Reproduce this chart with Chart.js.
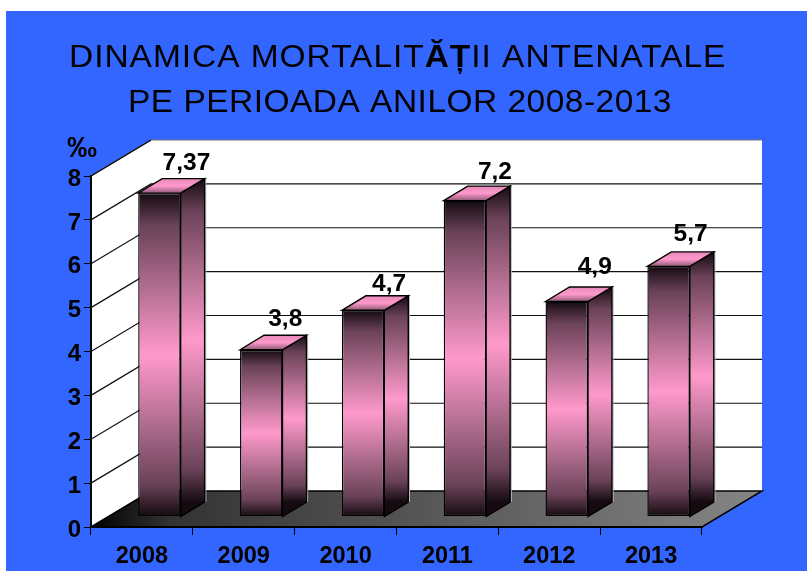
<!DOCTYPE html>
<html><head><meta charset="utf-8">
<style>html,body{margin:0;padding:0;background:#fff;overflow:hidden}#c{position:absolute;left:0;top:0}</style>
<script src="https://cdn.jsdelivr.net/npm/chart.js@4"></script>
</head><body><canvas id="c" width="807" height="571"></canvas>
<script>
const categories = ['2008','2009','2010','2011','2012','2013'];
const values = [7.37,3.8,4.7,7.2,4.9,5.7];
const valueLabels = ['7,37','3,8','4,7','7,2','4,9','5,7'];
const titleLine1 = [['DINAMICA MORTALIT',false],['ĂȚ',true],['II ANTENATALE',false]];
const titleLine2 = 'PE PERIOADA ANILOR 2008-2013';
const yUnit = '‰';
const FONT = '"Liberation Sans", Arial, sans-serif';
const WALL = {dx:60, dy:-36};
const BAR = {fx:17.5, fy:-10.5, dx:24, dy:-14.5};
const LABEL_NUDGE = [[1,-1.5],[-2,-2],[0,2],[4,0],[2,-6.5],[-4,-4]];

function poly(ctx, pts){ctx.beginPath();pts.forEach((p,i)=>i?ctx.lineTo(p[0],p[1]):ctx.moveTo(p[0],p[1]));ctx.closePath();}
function barGrad(ctx,top,bottom){
  const g=ctx.createLinearGradient(0,top,0,bottom);
  [[0,'#140a10'],[0.1,'#6a4258'],[0.3,'#b56f92'],[0.5,'#ff99cc'],[0.7,'#b56f92'],[0.9,'#6a4258'],[1,'#140a10']]
    .forEach(s=>g.addColorStop(s[0],s[1]));
  return g;
}
const scene = {
  id:'scene',
  beforeDraw(chart){
    const ctx=chart.ctx,{x,y}=chart.scales;
    const L=x.left,R=x.right,T=y.getPixelForValue(8),B=y.getPixelForValue(0);
    const d=WALL;
    ctx.save();
    ctx.fillStyle='#3366ff';ctx.fillRect(6,11,801,560);
    ctx.fillStyle='#000';ctx.textBaseline='alphabetic';ctx.textAlign='left';
    const sx=1.08;
    ctx.save();ctx.translate(69,67);ctx.scale(sx,1);
    ctx.letterSpacing='0.9px';
    let tx=0;
    titleLine1.forEach(([s,b])=>{ctx.font=(b?'bold ':'')+'31px '+FONT;ctx.fillText(s,tx,0);tx+=ctx.measureText(s).width;});
    ctx.restore();
    ctx.save();ctx.translate(128,112);ctx.scale(sx,1);
    ctx.letterSpacing='0.45px';
    ctx.font='31px '+FONT;ctx.fillText(titleLine2,0,0);
    ctx.restore();
    ctx.font='bold 30px '+FONT;ctx.fillText(yUnit,67,157);
    ctx.fillStyle='#fff';
    ctx.fillRect(L+d.dx,T+d.dy,R-L,B-T);
    poly(ctx,[[L,T],[L+d.dx,T+d.dy],[L+d.dx,B+d.dy],[L,B]]);ctx.fill();
    const g=ctx.createLinearGradient(L,0,R+d.dx,0);
    g.addColorStop(0,'#000');g.addColorStop(0.12,'#333');g.addColorStop(0.3,'#444');g.addColorStop(1,'#858585');
    ctx.fillStyle=g;poly(ctx,[[L,B],[L+d.dx,B+d.dy],[R+d.dx,B+d.dy],[R,B]]);ctx.fill();
    ctx.strokeStyle='#000';ctx.lineWidth=1.5;ctx.stroke();
    ctx.lineWidth=1.2;
    y.ticks.forEach(t=>{
      const py=y.getPixelForValue(t.value);
      if(t.value===0)return;
      ctx.strokeStyle=t.value===8?'#777':'#111';
      ctx.beginPath();ctx.moveTo(L,py);ctx.lineTo(L+d.dx,py+d.dy);
      ctx.lineTo(R+d.dx,py+d.dy);ctx.stroke();
    });
    ctx.strokeStyle='#000';ctx.beginPath();ctx.moveTo(L,T);ctx.lineTo(L+d.dx,T+d.dy);ctx.stroke();
    ctx.restore();
  },
  beforeDatasetDraw(chart){chart.ctx.save();chart.ctx.translate(BAR.fx,BAR.fy);},
  afterDatasetDraw(chart,args){
    const ctx=chart.ctx,bd=BAR;
    const y0=chart.scales.y.getPixelForValue(0);
    chart.getDatasetMeta(args.index).data.forEach((el)=>{
      const l=el.x-el.width/2,r=el.x+el.width/2,t=el.y,b=y0;
      ctx.strokeStyle='#bbb';ctx.lineWidth=1;
      ctx.beginPath();ctx.moveTo(r+bd.dx+1.2,t+bd.dy);ctx.lineTo(r+bd.dx+1.2,b+bd.dy);ctx.stroke();
      ctx.strokeStyle='#000';ctx.lineWidth=1.4;
      ctx.fillStyle=barGrad(ctx,t+bd.dy,b+bd.dy);
      poly(ctx,[[r,t],[r+bd.dx,t+bd.dy],[r+bd.dx,b+bd.dy],[r,b]]);ctx.fill();ctx.stroke();
      const g=ctx.createLinearGradient(0,t+bd.dy,0,t);
      g.addColorStop(0,'#e58ab8');g.addColorStop(0.5,'#ff99cc');g.addColorStop(1,'#8f5a77');
      ctx.fillStyle=g;
      poly(ctx,[[l,t],[l+bd.dx,t+bd.dy],[r+bd.dx,t+bd.dy],[r,t]]);ctx.fill();ctx.stroke();
    });
    ctx.restore();
  },
  afterDatasetsDraw(chart){
    const ctx=chart.ctx;
    ctx.save();ctx.fillStyle='#000';ctx.font='bold 24.5px '+FONT;ctx.textAlign='center';ctx.textBaseline='alphabetic';
    chart.getDatasetMeta(0).data.forEach((el,i)=>{
      const n=LABEL_NUDGE[i];
      ctx.fillText(valueLabels[i],el.x+BAR.fx+26+n[0],el.y+BAR.fy+BAR.dy-7+n[1]);
    });
    ctx.restore();
  }
};
new Chart(document.getElementById('c'),{
  type:'bar',
  data:{labels:categories,datasets:[{data:values,
    barPercentage:0.4167,categoryPercentage:1,
    borderColor:'#000',borderWidth:1.4,borderSkipped:false,
    backgroundColor(c){const ch=c.chart,s=ch.scales.y;
      if(!s||c.raw===undefined)return '#ff99cc';
      const a=s.getPixelForValue(c.raw),b=s.getPixelForValue(0);
      if(!isFinite(a)||!isFinite(b))return '#ff99cc';
      return barGrad(ch.ctx,a,b);}
  }]},
  options:{
    responsive:false,animation:false,
    layout:{padding:{top:176,right:105}},
    plugins:{legend:{display:false},tooltip:{enabled:false}},
    scales:{
      x:{position:'bottom',
        afterFit(s){s.height=571-527;},
        grid:{drawOnChartArea:false,drawTicks:true,tickLength:8,color:'#000',lineWidth:1},
        border:{display:true,color:'#000',width:2},
        ticks:{color:'#000',font:{family:FONT,size:23.5,weight:'bold'},padding:7,maxRotation:0}},
      y:{min:0,max:8,
        afterFit(s){s.width=91;},
        grid:{drawOnChartArea:false,drawTicks:true,tickLength:7,color:'#000',lineWidth:1},
        border:{display:true,color:'#000',width:2},
        ticks:{stepSize:1,color:'#000',font:{family:FONT,size:24,weight:'bold'},padding:3,labelOffset:3}}
    }
  },
  plugins:[scene]
});
</script></body></html>
